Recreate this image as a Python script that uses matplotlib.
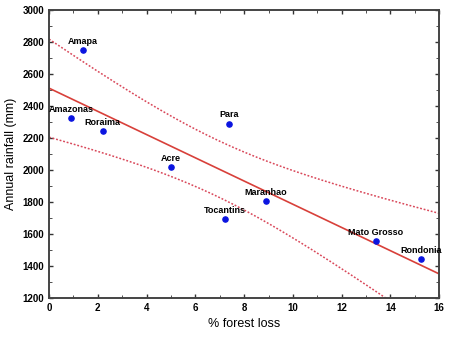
import numpy as np
import matplotlib
matplotlib.use("Agg")
import matplotlib.pyplot as plt
from matplotlib.ticker import MultipleLocator

plt.rcParams['font.family'] = ['Liberation Sans', 'DejaVu Sans']

# Dados
estados = ['Amapa', 'Amazonas', 'Roraima', 'Acre', 'Para', 'Tocantins',
           'Maranhao', 'Mato Grosso', 'Rondonia']
perda_floresta = [1.4, 0.9, 2.2, 5.0, 7.4, 7.2, 8.9, 13.4, 15.25]
chuva_anual = [2750, 2325, 2245, 2020, 2290, 1695, 1805, 1555, 1445]

x = np.array(perda_floresta)
y = np.array(chuva_anual)

# Regressao linear + intervalo de confianca 95% da media
n = len(x)
b, a = np.polyfit(x, y, 1)
res = y - (a + b * x)
s = np.sqrt(np.sum(res ** 2) / (n - 2))
t = 2.365  # t(0.975, 7 gl)
xx = np.linspace(0, 16, 200)
yy = a + b * xx
se = s * np.sqrt(1 / n + (xx - x.mean()) ** 2 / np.sum((x - x.mean()) ** 2))

fig = plt.figure(figsize=(4.5, 3.37), dpi=100)
ax = fig.add_axes([0.109, 0.116, 0.867, 0.854])

cor_linha = '#d8403a'
ax.plot(xx, yy, color=cor_linha, lw=1.2)
ax.plot(xx, yy + t * se, color='#d9485a', lw=1.1, ls=(0, (1.2, 1.2)))
ax.plot(xx, yy - t * se, color='#d9485a', lw=1.1, ls=(0, (1.2, 1.2)))

ax.scatter(x, y, s=14, color='#0a14e0', zorder=3)
for nome, xi, yi in zip(estados, x, y):
    ax.annotate(nome, (xi, yi), xytext=(0, 3), textcoords='offset points',
                ha='center', va='bottom', fontsize=6.5, fontweight='bold')

ax.set_xlim(0, 16)
ax.set_ylim(1200, 3000)
ax.xaxis.set_major_locator(MultipleLocator(2))
ax.xaxis.set_minor_locator(MultipleLocator(1))
ax.yaxis.set_major_locator(MultipleLocator(200))
ax.yaxis.set_minor_locator(MultipleLocator(100))
ax.tick_params(which='both', direction='in', top=True, right=True,
               labelsize=7, color='#333333')
ax.tick_params(which='major', length=3, width=1)
ax.tick_params(which='minor', length=2, width=0.6)
for lbl in ax.get_xticklabels() + ax.get_yticklabels():
    lbl.set_fontweight('bold')
for sp in ax.spines.values():
    sp.set_linewidth(1.4)
    sp.set_color('#444444')

ax.set_xlabel('% forest loss', fontsize=9)
ax.set_ylabel('Annual rainfall (mm)', fontsize=9)

fig.savefig('out.png', dpi=100)
